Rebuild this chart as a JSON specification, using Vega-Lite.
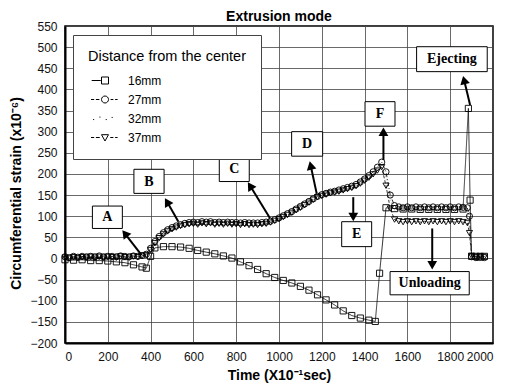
{
  "$schema": "https://vega.github.io/schema/vega-lite/v6.json",
  "width": 428,
  "height": 317,
  "autosize": {"type": "none"},
  "padding": {"left": 65, "top": 26, "right": 14, "bottom": 46},
  "title": {"text": "Extrusion mode", "font": "Liberation Sans", "fontSize": 14, "fontWeight": "bold", "color": "black", "anchor": "middle", "offset": -4},
  "config": {
    "view": {"stroke": "black", "strokeWidth": 1.5},
    "axis": {
      "grid": true, "gridColor": "#444", "gridWidth": 0.8,
      "domainColor": "black", "domainWidth": 2, "ticks": false,
      "labelFont": "Liberation Sans", "labelFontSize": 12, "labelColor": "#111",
      "titleFont": "Liberation Sans", "titleFontSize": 14, "titleFontWeight": "bold", "titleColor": "black",
      "labelOverlap": false
    }
  },
  "resolve": {"scale": {"shape": "independent"}},
  "datasets": {
    "series": [
      {"s":"37mm","t":0,"v":2},{"s":"37mm","t":20,"v":0},{"s":"37mm","t":40,"v":3},{"s":"37mm","t":60,"v":1},{"s":"37mm","t":80,"v":3},{"s":"37mm","t":100,"v":2},{"s":"37mm","t":120,"v":4},{"s":"37mm","t":140,"v":2},{"s":"37mm","t":160,"v":4},{"s":"37mm","t":180,"v":2},{"s":"37mm","t":200,"v":4},{"s":"37mm","t":220,"v":3},{"s":"37mm","t":240,"v":2},{"s":"37mm","t":260,"v":5},{"s":"37mm","t":280,"v":3},{"s":"37mm","t":300,"v":2},{"s":"37mm","t":320,"v":5},{"s":"37mm","t":340,"v":3},{"s":"37mm","t":360,"v":6},{"s":"37mm","t":380,"v":8},{"s":"37mm","t":400,"v":20},{"s":"37mm","t":420,"v":36},{"s":"37mm","t":440,"v":48},{"s":"37mm","t":460,"v":57},{"s":"37mm","t":480,"v":64},{"s":"37mm","t":500,"v":69},{"s":"37mm","t":520,"v":73},{"s":"37mm","t":540,"v":77},{"s":"37mm","t":560,"v":79},{"s":"37mm","t":580,"v":81},{"s":"37mm","t":600,"v":82},{"s":"37mm","t":620,"v":80},{"s":"37mm","t":640,"v":83},{"s":"37mm","t":660,"v":81},{"s":"37mm","t":680,"v":83},{"s":"37mm","t":700,"v":80},{"s":"37mm","t":720,"v":82},{"s":"37mm","t":740,"v":80},{"s":"37mm","t":760,"v":82},{"s":"37mm","t":780,"v":80},{"s":"37mm","t":800,"v":81},{"s":"37mm","t":820,"v":79},{"s":"37mm","t":840,"v":81},{"s":"37mm","t":860,"v":79},{"s":"37mm","t":880,"v":80},{"s":"37mm","t":900,"v":79},{"s":"37mm","t":920,"v":81},{"s":"37mm","t":940,"v":82},{"s":"37mm","t":960,"v":85},{"s":"37mm","t":980,"v":89},{"s":"37mm","t":1000,"v":93},{"s":"37mm","t":1020,"v":98},{"s":"37mm","t":1040,"v":103},{"s":"37mm","t":1060,"v":108},{"s":"37mm","t":1080,"v":114},{"s":"37mm","t":1100,"v":120},{"s":"37mm","t":1120,"v":126},{"s":"37mm","t":1140,"v":132},{"s":"37mm","t":1160,"v":139},{"s":"37mm","t":1180,"v":145},{"s":"37mm","t":1200,"v":148},{"s":"37mm","t":1220,"v":151},{"s":"37mm","t":1240,"v":154},{"s":"37mm","t":1260,"v":156},{"s":"37mm","t":1280,"v":158},{"s":"37mm","t":1300,"v":161},{"s":"37mm","t":1320,"v":164},{"s":"37mm","t":1340,"v":167},{"s":"37mm","t":1360,"v":171},{"s":"37mm","t":1380,"v":177},{"s":"37mm","t":1400,"v":184},{"s":"37mm","t":1420,"v":191},{"s":"37mm","t":1440,"v":199},{"s":"37mm","t":1460,"v":208},{"s":"37mm","t":1480,"v":216},{"s":"37mm","t":1500,"v":172},{"s":"37mm","t":1520,"v":118},{"s":"37mm","t":1540,"v":92},{"s":"37mm","t":1560,"v":88},{"s":"37mm","t":1580,"v":86},{"s":"37mm","t":1600,"v":88},{"s":"37mm","t":1620,"v":86},{"s":"37mm","t":1640,"v":88},{"s":"37mm","t":1660,"v":86},{"s":"37mm","t":1680,"v":88},{"s":"37mm","t":1700,"v":86},{"s":"37mm","t":1720,"v":88},{"s":"37mm","t":1740,"v":86},{"s":"37mm","t":1760,"v":88},{"s":"37mm","t":1780,"v":86},{"s":"37mm","t":1800,"v":88},{"s":"37mm","t":1820,"v":86},{"s":"37mm","t":1840,"v":88},{"s":"37mm","t":1860,"v":86},{"s":"37mm","t":1880,"v":84},{"s":"37mm","t":1890,"v":60},{"s":"37mm","t":1900,"v":6},{"s":"37mm","t":1920,"v":4},{"s":"37mm","t":1940,"v":6},{"s":"37mm","t":1960,"v":4},
      {"s":"27mm","t":0,"v":4},{"s":"27mm","t":20,"v":2},{"s":"27mm","t":40,"v":5},{"s":"27mm","t":60,"v":3},{"s":"27mm","t":80,"v":5},{"s":"27mm","t":100,"v":4},{"s":"27mm","t":120,"v":5},{"s":"27mm","t":140,"v":4},{"s":"27mm","t":160,"v":6},{"s":"27mm","t":180,"v":4},{"s":"27mm","t":200,"v":5},{"s":"27mm","t":220,"v":5},{"s":"27mm","t":240,"v":4},{"s":"27mm","t":260,"v":6},{"s":"27mm","t":280,"v":5},{"s":"27mm","t":300,"v":4},{"s":"27mm","t":320,"v":6},{"s":"27mm","t":340,"v":5},{"s":"27mm","t":360,"v":7},{"s":"27mm","t":380,"v":10},{"s":"27mm","t":400,"v":24},{"s":"27mm","t":420,"v":40},{"s":"27mm","t":440,"v":52},{"s":"27mm","t":460,"v":61},{"s":"27mm","t":480,"v":68},{"s":"27mm","t":500,"v":73},{"s":"27mm","t":520,"v":77},{"s":"27mm","t":540,"v":80},{"s":"27mm","t":560,"v":83},{"s":"27mm","t":580,"v":85},{"s":"27mm","t":600,"v":86},{"s":"27mm","t":620,"v":85},{"s":"27mm","t":640,"v":87},{"s":"27mm","t":660,"v":86},{"s":"27mm","t":680,"v":87},{"s":"27mm","t":700,"v":85},{"s":"27mm","t":720,"v":86},{"s":"27mm","t":740,"v":85},{"s":"27mm","t":760,"v":86},{"s":"27mm","t":780,"v":85},{"s":"27mm","t":800,"v":85},{"s":"27mm","t":820,"v":84},{"s":"27mm","t":840,"v":85},{"s":"27mm","t":860,"v":84},{"s":"27mm","t":880,"v":84},{"s":"27mm","t":900,"v":84},{"s":"27mm","t":920,"v":85},{"s":"27mm","t":940,"v":86},{"s":"27mm","t":960,"v":88},{"s":"27mm","t":980,"v":92},{"s":"27mm","t":1000,"v":96},{"s":"27mm","t":1020,"v":101},{"s":"27mm","t":1040,"v":106},{"s":"27mm","t":1060,"v":111},{"s":"27mm","t":1080,"v":117},{"s":"27mm","t":1100,"v":123},{"s":"27mm","t":1120,"v":129},{"s":"27mm","t":1140,"v":135},{"s":"27mm","t":1160,"v":141},{"s":"27mm","t":1180,"v":147},{"s":"27mm","t":1200,"v":151},{"s":"27mm","t":1220,"v":154},{"s":"27mm","t":1240,"v":157},{"s":"27mm","t":1260,"v":159},{"s":"27mm","t":1280,"v":162},{"s":"27mm","t":1300,"v":165},{"s":"27mm","t":1320,"v":168},{"s":"27mm","t":1340,"v":171},{"s":"27mm","t":1360,"v":175},{"s":"27mm","t":1380,"v":181},{"s":"27mm","t":1400,"v":188},{"s":"27mm","t":1420,"v":196},{"s":"27mm","t":1440,"v":205},{"s":"27mm","t":1460,"v":216},{"s":"27mm","t":1480,"v":228},{"s":"27mm","t":1500,"v":205},{"s":"27mm","t":1520,"v":150},{"s":"27mm","t":1540,"v":125},{"s":"27mm","t":1560,"v":122},{"s":"27mm","t":1580,"v":120},{"s":"27mm","t":1600,"v":122},{"s":"27mm","t":1620,"v":120},{"s":"27mm","t":1640,"v":122},{"s":"27mm","t":1660,"v":120},{"s":"27mm","t":1680,"v":122},{"s":"27mm","t":1700,"v":120},{"s":"27mm","t":1720,"v":122},{"s":"27mm","t":1740,"v":120},{"s":"27mm","t":1760,"v":122},{"s":"27mm","t":1780,"v":120},{"s":"27mm","t":1800,"v":122},{"s":"27mm","t":1820,"v":120},{"s":"27mm","t":1840,"v":122},{"s":"27mm","t":1860,"v":121},{"s":"27mm","t":1880,"v":120},{"s":"27mm","t":1890,"v":100},{"s":"27mm","t":1900,"v":4},{"s":"27mm","t":1920,"v":2},{"s":"27mm","t":1940,"v":4},{"s":"27mm","t":1960,"v":2},
      {"s":"32mm","t":0,"v":3},{"s":"32mm","t":40,"v":4},{"s":"32mm","t":80,"v":3},{"s":"32mm","t":120,"v":4},{"s":"32mm","t":160,"v":4},{"s":"32mm","t":200,"v":4},{"s":"32mm","t":240,"v":4},{"s":"32mm","t":280,"v":4},{"s":"32mm","t":320,"v":4},{"s":"32mm","t":360,"v":5},{"s":"32mm","t":400,"v":22},{"s":"32mm","t":440,"v":50},{"s":"32mm","t":480,"v":66},{"s":"32mm","t":520,"v":75},{"s":"32mm","t":560,"v":81},{"s":"32mm","t":600,"v":84},{"s":"32mm","t":640,"v":85},{"s":"32mm","t":680,"v":85},{"s":"32mm","t":720,"v":84},{"s":"32mm","t":760,"v":84},{"s":"32mm","t":800,"v":83},{"s":"32mm","t":840,"v":83},{"s":"32mm","t":880,"v":82},{"s":"32mm","t":920,"v":83},{"s":"32mm","t":960,"v":86},{"s":"32mm","t":1000,"v":94},{"s":"32mm","t":1040,"v":104},{"s":"32mm","t":1080,"v":115},{"s":"32mm","t":1120,"v":127},{"s":"32mm","t":1160,"v":140},{"s":"32mm","t":1200,"v":149},{"s":"32mm","t":1240,"v":155},{"s":"32mm","t":1280,"v":160},{"s":"32mm","t":1320,"v":166},{"s":"32mm","t":1360,"v":173},{"s":"32mm","t":1400,"v":186},{"s":"32mm","t":1440,"v":202},{"s":"32mm","t":1480,"v":222},{"s":"32mm","t":1500,"v":190},{"s":"32mm","t":1520,"v":140},{"s":"32mm","t":1540,"v":112},{"s":"32mm","t":1580,"v":110},{"s":"32mm","t":1620,"v":110},{"s":"32mm","t":1660,"v":110},{"s":"32mm","t":1700,"v":110},{"s":"32mm","t":1740,"v":110},{"s":"32mm","t":1780,"v":110},{"s":"32mm","t":1820,"v":110},{"s":"32mm","t":1860,"v":110},{"s":"32mm","t":1880,"v":108},{"s":"32mm","t":1900,"v":5},{"s":"32mm","t":1940,"v":4},{"s":"32mm","t":1960,"v":4},
      {"s":"16mm","t":0,"v":-3},{"s":"16mm","t":40,"v":-4},{"s":"16mm","t":80,"v":-3},{"s":"16mm","t":120,"v":-5},{"s":"16mm","t":160,"v":-5},{"s":"16mm","t":200,"v":-6},{"s":"16mm","t":240,"v":-8},{"s":"16mm","t":280,"v":-10},{"s":"16mm","t":320,"v":-15},{"s":"16mm","t":360,"v":-20},{"s":"16mm","t":380,"v":-23},{"s":"16mm","t":400,"v":5},{"s":"16mm","t":420,"v":25},{"s":"16mm","t":460,"v":28},{"s":"16mm","t":500,"v":28},{"s":"16mm","t":540,"v":27},{"s":"16mm","t":580,"v":24},{"s":"16mm","t":620,"v":19},{"s":"16mm","t":660,"v":15},{"s":"16mm","t":700,"v":11},{"s":"16mm","t":740,"v":6},{"s":"16mm","t":780,"v":1},{"s":"16mm","t":820,"v":-8},{"s":"16mm","t":860,"v":-17},{"s":"16mm","t":900,"v":-26},{"s":"16mm","t":940,"v":-36},{"s":"16mm","t":980,"v":-45},{"s":"16mm","t":1020,"v":-52},{"s":"16mm","t":1060,"v":-58},{"s":"16mm","t":1100,"v":-66},{"s":"16mm","t":1140,"v":-75},{"s":"16mm","t":1180,"v":-86},{"s":"16mm","t":1220,"v":-98},{"s":"16mm","t":1260,"v":-110},{"s":"16mm","t":1300,"v":-124},{"s":"16mm","t":1340,"v":-135},{"s":"16mm","t":1380,"v":-141},{"s":"16mm","t":1420,"v":-146},{"s":"16mm","t":1450,"v":-149},{"s":"16mm","t":1470,"v":-35},{"s":"16mm","t":1500,"v":120},{"s":"16mm","t":1540,"v":118},{"s":"16mm","t":1580,"v":117},{"s":"16mm","t":1620,"v":117},{"s":"16mm","t":1660,"v":116},{"s":"16mm","t":1700,"v":116},{"s":"16mm","t":1740,"v":116},{"s":"16mm","t":1780,"v":116},{"s":"16mm","t":1820,"v":116},{"s":"16mm","t":1860,"v":117},{"s":"16mm","t":1885,"v":355},{"s":"16mm","t":1893,"v":138},{"s":"16mm","t":1900,"v":5},{"s":"16mm","t":1920,"v":5},{"s":"16mm","t":1940,"v":3},{"s":"16mm","t":1960,"v":5}
    ],
    "boxes": [
      {"label":"A","x1":128,"x2":268,"y1":71,"y2":124,"tx":198,"ty":97},
      {"label":"B","x1":322,"x2":463,"y1":154,"y2":211,"tx":392,"ty":182},
      {"label":"C","x1":721,"x2":861,"y1":182,"y2":241,"tx":791,"ty":211},
      {"label":"D","x1":1059,"x2":1204,"y1":242,"y2":300,"tx":1131,"ty":271},
      {"label":"E","x1":1293,"x2":1433,"y1":28,"y2":87,"tx":1363,"ty":57},
      {"label":"F","x1":1402,"x2":1542,"y1":313,"y2":371,"tx":1472,"ty":342},
      {"label":"Ejecting","x1":1643,"x2":1973,"y1":442,"y2":501,"tx":1808,"ty":471},
      {"label":"Unloading","x1":1519,"x2":1889,"y1":-86,"y2":-31,"tx":1704,"ty":-58}
    ],
    "arrows": [
      {"label":"A","t1":358,"v1":8,"t2":280,"v2":59,"ang":322},
      {"label":"B","t1":530,"v1":87,"t2":477,"v2":134,"ang":330},
      {"label":"C","t1":958,"v1":95,"t2":865,"v2":172,"ang":328},
      {"label":"D","t1":1176,"v1":154,"t2":1148,"v2":220,"ang":347},
      {"label":"E","t1":1347,"v1":145,"t2":1347,"v2":98,"ang":180},
      {"label":"F","t1":1488,"v1":233,"t2":1488,"v2":300,"ang":0},
      {"label":"Ejecting","t1":1893,"v1":363,"t2":1865,"v2":422,"ang":346},
      {"label":"Unloading","t1":1716,"v1":71,"t2":1716,"v2":-16,"ang":180}
    ]
  },
  "encoding": {
    "x": {"type": "quantitative", "scale": {"domain": [0, 2000], "nice": false}, "title": "Time (X10⁻¹sec)",
          "axis": {"values": [0,200,400,600,800,1000,1200,1400,1600,1800,2000], "format": "d", "labelPadding": 8, "titlePadding": 6}},
    "y": {"type": "quantitative", "scale": {"domain": [-200, 550], "nice": false}, "title": "Circumferential strain (x10⁻⁶)",
          "axis": {"values": [-200,-150,-100,-50,0,50,100,150,200,250,300,350,400,450,500,550], "format": "d", "labelPadding": 8, "titlePadding": 6, "titleY": 167}}
  },
  "layer": [
    {
      "data": {"name": "series"},
      "mark": {"type": "line", "strokeWidth": 0.8},
      "encoding": {
        "x": {"field": "t"},
        "y": {"field": "v"},
        "color": {"field": "s", "type": "nominal", "scale": {"range": ["black","black","#999999","black"]}, "legend": null},
        "strokeDash": {"field": "s", "type": "nominal", "scale": {"range": [[1,0],[4,2,1,2],[1,2],[3,2]]}, "legend": null}
      }
    },
    {
      "data": {"name": "series"},
      "transform": [{"filter": "datum.s !== '32mm'"}],
      "mark": {"type": "point", "filled": false, "color": "black", "strokeWidth": 0.9, "size": 38, "opacity": 1},
      "encoding": {
        "x": {"field": "t"},
        "y": {"field": "v"},
        "shape": {"field": "s", "type": "nominal", "scale": {"range": ["square","circle","triangle-down"]}, "legend": null}
      }
    },
    {
      "data": {"name": "series"},
      "transform": [{"filter": "datum.t === 0"}],
      "mark": {"type": "point", "filled": false, "color": "black", "strokeWidth": 1, "size": 49, "opacity": 0},
      "encoding": {
        "x": {"field": "t"},
        "y": {"field": "v"},
        "shape": {"field": "s", "type": "nominal",
          "scale": {"domain": ["16mm","27mm","32mm","37mm"], "range": [
            "M-3.8,0H-1.2M-1,-1H1V1H-1Z",
            "M-4,0H-3.1M-2.6,0H-1.6M-1,0A1,1 0 1,0 1,0A1,1 0 1,0 -1,0M1.6,0H2.4M2.9,0H3.6",
            "M-3.4,0.3H-3.1M-1.6,-0.4H-1.3M0.2,0.3H0.5M1.9,-0.3H2.2",
            "M-4,0H-3.1M-2.6,0H-1.5M-1,-0.8H1L0,1ZM1.5,0H2.4M2.9,0H3.6"
          ]},
          "legend": {
            "orient": "none", "legendX": 8, "legendY": 9,
            "title": "Distance from the center",
            "titleFont": "Liberation Sans", "titleFontSize": 14.5, "titleFontWeight": "normal", "titleColor": "black",
            "labelFont": "Liberation Sans", "labelFontSize": 12, "labelColor": "black",
            "fillColor": "white", "strokeColor": "#444", "padding": 15,
            "symbolSize": 49, "symbolStrokeColor": "black", "symbolStrokeWidth": 1, "symbolFillColor": "transparent", "symbolOpacity": 1,
            "symbolOffset": 11, "labelOffset": 17, "rowPadding": 7, "titlePadding": 10
          }
        }
      }
    },
    {
      "data": {"name": "arrows"},
      "mark": {"type": "rule", "color": "black", "strokeWidth": 2},
      "encoding": {
        "x": {"field": "t1"},
        "x2": {"field": "t2"},
        "y": {"field": "v1"},
        "y2": {"field": "v2"}
      }
    },
    {
      "data": {"name": "arrows"},
      "mark": {"type": "point", "shape": "triangle-up", "filled": true, "color": "black", "size": 95, "opacity": 1},
      "encoding": {
        "x": {"field": "t2"},
        "y": {"field": "v2"},
        "angle": {"field": "ang", "type": "quantitative", "scale": null}
      }
    },
    {
      "data": {"name": "boxes"},
      "mark": {"type": "rect", "fill": "white", "stroke": "black", "strokeWidth": 1},
      "encoding": {
        "x": {"field": "x1"},
        "x2": {"field": "x2"},
        "y": {"field": "y1"},
        "y2": {"field": "y2"}
      }
    },
    {
      "data": {"name": "boxes"},
      "mark": {"type": "text", "font": "Liberation Serif", "fontWeight": "bold", "fontSize": 14, "color": "black", "baseline": "middle", "align": "center"},
      "encoding": {
        "x": {"field": "tx"},
        "y": {"field": "ty"},
        "text": {"field": "label"}
      }
    }
  ]
}
